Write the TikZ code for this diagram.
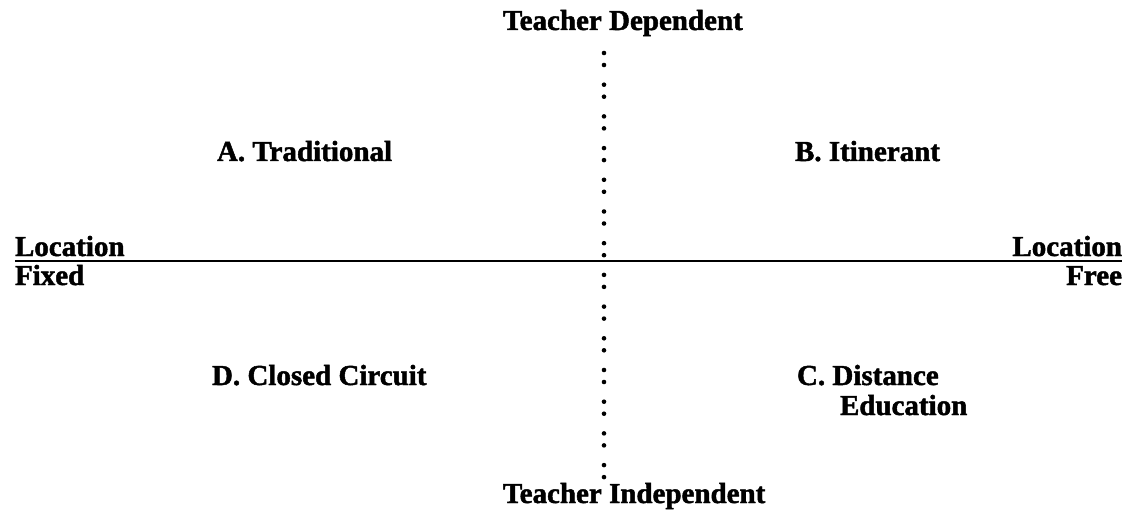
\documentclass[tikz,border=0pt]{standalone}
\usepackage{fontspec}
\setmainfont{Liberation Serif}[BoldFeatures={FakeBold=1.6}]
\begin{document}
\begin{tikzpicture}[x=1pt,y=-1pt,
  lbl/.style={font=\fontsize{29}{30}\selectfont\bfseries, inner sep=0pt, outer sep=0pt},
  axis/.style={line width=2.2pt},
  dotmark/.style={fill=black}]
\useasboundingbox (0,0) rectangle (1130,513);
% top and bottom labels
\node[lbl, anchor=base west] (td) at (503,30) {Teacher Dependent};
\node[lbl, anchor=base west] (ti) at (503,503) {Teacher Independent};
% quadrant labels
\node[lbl, anchor=base west] (a) at (217,161) {A. Traditional};
\node[lbl, anchor=base west] (b) at (795,161) {B. Itinerant};
\node[lbl, anchor=base west] (d) at (212,385) {D. Closed Circuit};
\node[lbl, anchor=base west] (c) at (797,385) {C. Distance};
\node[lbl, anchor=base west] (c2) at (840,415) {Education};
% axis end labels
\node[lbl, anchor=base west] (locl) at (15,256) {Location};
\node[lbl, anchor=base west] (fixed) at (15,285) {Fixed};
\node[lbl, anchor=base east] (locr) at (1122,256) {Location};
\node[lbl, anchor=base east] (free) at (1122,285) {Free};
% horizontal axis
\coordinate (hl) at (15,261);
\coordinate (hr) at (1122,261);
\draw[axis] (hl) -- (hr);
% vertical dotted axis (pairs of dots)
\foreach \k in {0,...,13}{
  \fill[dotmark] (604,{53+31.7*\k}) circle (2.3pt);
  \fill[dotmark] (604,{65+31.7*\k}) circle (2.3pt);
}
\end{tikzpicture}
\end{document}
